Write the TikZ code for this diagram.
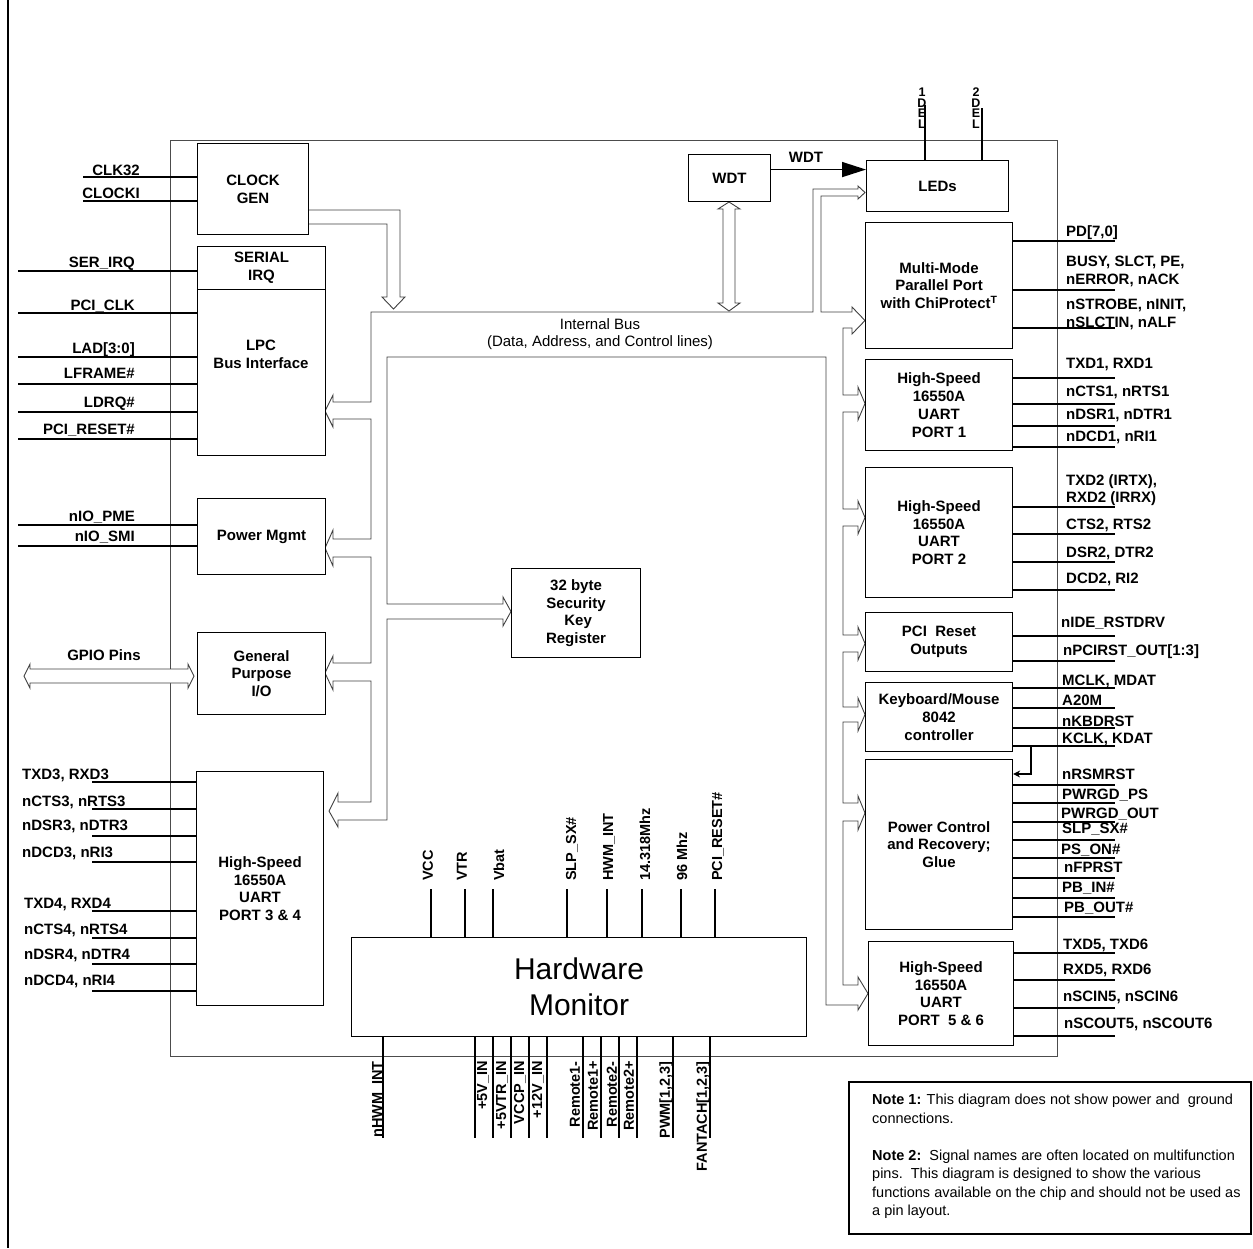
\documentclass[tikz,border=0pt]{standalone}
\usepackage{fontspec}
\setmainfont{Liberation Sans}
\usetikzlibrary{arrows.meta}
\begin{document}
\begin{tikzpicture}[x=1pt,y=-1pt,
  lbl/.style={font=\bfseries\fontsize{15}{18}\selectfont, inner sep=0pt},
  boxtxt/.style={font=\bfseries\fontsize{15}{17.8}\selectfont, align=center},
  blk/.style={draw, line width=1.1pt, fill=white, anchor=north west, inner sep=0pt, boxtxt},
  sig/.style={line width=1.6pt},
  bus/.style={draw=black!75, line width=0.9pt, fill=white, line join=miter},
  pinl/.style={font=\bfseries\fontsize{14.5}{17}\selectfont, inner sep=0pt},
  ledl/.style={font=\bfseries\fontsize{12.5}{10.5}\selectfont, align=center, inner sep=0pt, anchor=north},
]
\useasboundingbox (0,0) rectangle (1253,1248);
% outer frame
\draw[line width=2.5pt] (8,0) -- (8,1248);
% chip outline
\draw[black!70, line width=0.9pt] (170,140) rectangle (1057,1056);

% ---------- left signals ----------
\draw[sig] (83,177) -- (197,177);
\draw[sig] (83,201) -- (197,201);
\node[lbl, anchor=base east] (lclk32) at (140,175) {CLK32};
\node[lbl, anchor=base east] (lclocki) at (140,198) {CLOCKI};
\foreach \ly/\by/\tx [count=\i] in {271/267/SER\_IRQ, 313/310/PCI\_CLK, 357/353/{LAD[3:0]}, 384/378/LFRAME\#, 412/407/LDRQ\#, 439/434/PCI\_RESET\#, 525/521/nIO\_PME, 546/541/nIO\_SMI}{
  \draw[sig] (18,\ly) -- (197,\ly);
  \node[lbl, anchor=base east] (ll\i) at (135,\by) {\tx};
}
\foreach \ly/\by/\lx/\tx [count=\i] in {782/779/22/{TXD3, RXD3}, 809/806/22/{nCTS3, nRTS3}, 836/830/22/{nDSR3, nDTR3}, 862/857/22/{nDCD3, nRI3}, 911/908/24/{TXD4, RXD4}, 938/934/24/{nCTS4, nRTS4}, 964/959/24/{nDSR4, nDTR4}, 991/985/24/{nDCD4, nRI4}}{
  \draw[sig] (92,\ly) -- (196,\ly);
  \node[lbl, anchor=base west] (lu\i) at (\lx,\by) {\tx};
}
\node[lbl, anchor=base] (gpiol) at (104,660) {GPIO Pins};

% ---------- right signals ----------
\foreach \ly/\by/\lx/\tx [count=\i] in {241/236/1066/{PD[7,0]}, 290/284/1066/{nERROR, nACK}, 328/327/1066/{nSLCTIN, nALF},
  378/368/1066/{TXD1, RXD1}, 404/396/1066/{nCTS1, nRTS1}, 426/419/1066/{nDSR1, nDTR1}, 447/441/1066/{nDCD1, nRI1},
  507/502/1066/{RXD2 (IRRX)}, 534/529/1066/{CTS2, RTS2}, 562/557/1066/{DSR2, DTR2}, 590/583/1066/{DCD2, RI2},
  636/627/1061/nIDE\_RSTDRV, 661/655/1063/{nPCIRST\_OUT[1:3]},
  688/685/1062/{MCLK, MDAT}, 708/705/1062/A20M, 728/726/1062/nKBDRST, 746/743/1062/{KCLK, KDAT},
  785/779/1062/nRSMRST, 803/799/1062/PWRGD\_PS, 822/818/1061/PWRGD\_OUT, 840/833/1062/SLP\_SX\#, 858/854/1061/PS\_ON\#, 878/872/1064/nFPRST, 898/892/1062/PB\_IN\#, 917/912/1064/PB\_OUT\#,
  953/949/1063/{TXD5, TXD6}, 980/974/1063/{RXD5, RXD6}, 1008/1001/1063/{nSCIN5, nSCIN6}, 1036/1028/1064/{nSCOUT5, nSCOUT6}}{
  \draw[sig] (1012,\ly) -- (1115,\ly);
  \node[lbl, anchor=base west] (rl\i) at (\lx,\by) {\tx};
}
\node[lbl, anchor=base west] (rbusy) at (1066,266) {BUSY, SLCT, PE,};
\node[lbl, anchor=base west] (rstrobe) at (1066,309) {nSTROBE, nINIT,};
\node[lbl, anchor=base west] (rtxd2) at (1066,485) {TXD2 (IRTX),};

% ---------- LED pins ----------
\draw[sig] (925,105) -- (925,160);
\draw[sig] (982,108) -- (982,160);
\node[ledl] (led1) at (922,88) {1\\D\\E\\L};
\node[ledl] (led2) at (976,88) {2\\D\\E\\L};

% ---------- HWM pins ----------
\foreach \px/\lx/\tx [count=\i] in {431/428/VCC, 465/462/VTR, 493/499/Vbat, 567/572/SLP\_SX\#, 607/609/HWM\_INT, 642/645/14.318Mhz, 681/682/96 Mhz, 715/718/PCI\_RESET\#}{
  \draw[sig] (\px,889) -- (\px,937);
  \node[pinl, rotate=90, anchor=west] (tp\i) at (\lx,881) {\tx};
}
\foreach \px in {383,475,493,511,529,547,583,601,619,637,673,710}{
  \draw[sig] (\px,1036) -- (\px,1138);
}
\foreach \lx/\tx [count=\i] in {378/nHWM\_INT, 483/+5V\_IN, 502/+5VTR\_IN, 520/VCCP\_IN, 538/+12V\_IN, 575/Remote1-, 593/Remote1+, 612/Remote2-, 629/Remote2+, 666/{PWM[1,2,3]}, 703/{FANTACH[1,2,3]}}{
  \node[pinl, rotate=90, anchor=east] (bp\i) at (\lx,1061) {\tx};
}

% ---------- internal bus ----------
\draw[bus] (371,312) -- (813,312) -- (813,189) -- (858,189) -- (858,186) -- (865,192.5) -- (858,199) -- (858,196) -- (821,196) -- (821,312)
 -- (852,312) -- (852,307) -- (865,320.5) -- (852,334) -- (852,328) -- (843,328)
 -- (843,395) -- (858,395) -- (858,387) -- (865,403.5) -- (858,420) -- (858,412) -- (843,412)
 -- (843,509) -- (858,509) -- (858,501) -- (865,517.5) -- (858,534) -- (858,526) -- (843,526)
 -- (843,635) -- (858,635) -- (858,627) -- (865,643.5) -- (858,660) -- (858,652) -- (843,652)
 -- (843,707) -- (858,707) -- (858,698) -- (865,714.5) -- (858,731) -- (858,722) -- (843,722)
 -- (843,803) -- (858,803) -- (858,796) -- (865,813) -- (858,830) -- (858,821) -- (843,821)
 -- (843,985) -- (858,985) -- (858,977) -- (868,993.5) -- (858,1010) -- (858,1005) -- (826,1005)
 -- (826,357) -- (387,357) -- (387,604) -- (503,604) -- (503,597) -- (511,611.5) -- (503,626) -- (503,619) -- (387,619)
 -- (387,820) -- (338,820) -- (338,827) -- (329,811) -- (338,793) -- (338,802) -- (371,802)
 -- (371,681) -- (333,681) -- (333,690) -- (325,673) -- (333,656) -- (333,663) -- (371,663)
 -- (371,557) -- (333,557) -- (333,566) -- (325,548) -- (333,530) -- (333,539) -- (371,539)
 -- (371,419) -- (333,419) -- (333,427) -- (325,411) -- (333,395) -- (333,402) -- (371,402) -- cycle;
\node[font=\fontsize{15}{17}\selectfont, align=center, inner sep=0pt] (busl) at (600,334) {Internal Bus\\(Data, Address, and Control lines)};
% clock gen arrow
\draw[bus] (308,210) -- (400,210) -- (400,297) -- (405,297) -- (393.5,309) -- (382,297) -- (387,297) -- (387,224) -- (308,224);
% WDT double arrow
\draw[bus] (729,202) -- (740,209) -- (735,209) -- (735,303) -- (740,303) -- (729,311) -- (718,303) -- (723,303) -- (723,209) -- (718,209) -- cycle;
% GPIO double arrow
\draw[bus] (24,676) -- (30,664) -- (30,669) -- (188,669) -- (188,664) -- (194,676) -- (188,688) -- (188,683) -- (30,683) -- (30,688) -- cycle;

% ---------- blocks ----------
\node[blk, minimum width=111pt, minimum height=91pt] (clk) at (197,143) {CLOCK\\GEN};
\node[blk, minimum width=128pt, minimum height=43pt] (serirq) at (197,246) {SERIAL\\IRQ};
\node[blk, minimum width=128pt, minimum height=166pt] (lpc) at (197,289) {};
\node[boxtxt, inner sep=0pt] (lpct) at (261,354) {LPC\\Bus Interface};
\node[blk, minimum width=128pt, minimum height=76pt] (pm) at (197,498) {Power Mgmt};
\node[blk, minimum width=128pt, minimum height=82pt] (gpio) at (197,632) {General\\Purpose\\I/O};
\node[blk, minimum width=127pt, minimum height=234pt] (u34) at (196,771) {High-Speed\\16550A\\UART\\PORT 3 \& 4};
\node[blk, minimum width=455pt, minimum height=99pt, font=\fontsize{30}{36}\selectfont] (hwm) at (351,937) {Hardware\\Monitor};
\node[blk, minimum width=129pt, minimum height=89pt] (sec) at (511,568) {32 byte\\Security\\\ Key\\Register};
\node[blk, minimum width=82pt, minimum height=47pt] (wdt) at (688,154) {WDT};
\node[blk, minimum width=142pt, minimum height=51pt] (leds) at (866,160) {LEDs};
\node[blk, minimum width=147pt, minimum height=126pt] (pp) at (865,222) {Multi-Mode\\Parallel Port\\with ChiProtect\textsuperscript{T}};
\node[blk, minimum width=147pt, minimum height=91pt] (u1) at (865,359) {High-Speed\\16550A\\UART\\PORT 1};
\node[blk, minimum width=147pt, minimum height=130pt] (u2) at (865,467) {High-Speed\\16550A\\UART\\PORT 2};
\node[blk, minimum width=147pt, minimum height=59pt] (pci) at (865,612) {PCI\ \ Reset\\Outputs};
\node[blk, minimum width=147pt, minimum height=69pt] (kbd) at (865,682) {Keyboard/Mouse\\8042\\controller};
\node[blk, minimum width=147pt, minimum height=170pt] (pwr) at (865,759) {Power Control\\and Recovery;\\Glue};
\node[blk, minimum width=145pt, minimum height=104pt] (u56) at (868,941) {High-Speed\\16550A\\UART\\PORT\ \ 5 \& 6};

% ---------- connectors ----------
\draw[line width=1.6pt, -{Triangle[length=24pt,width=15pt]}] ([yshift=8.5pt]wdt.east) -- ([yshift=16.5pt]leds.west);
\node[lbl] (wdtl) at (806,157) {WDT};
\coordinate (kclk) at (1031,746);
\draw[line width=1.6pt, -{Stealth[length=7pt,width=7pt]}] (kclk) |- ([yshift=-15pt]pwr.north east);

% ---------- note ----------
\node[draw, line width=1.5pt, minimum width=402pt, minimum height=152pt, anchor=north west, inner sep=0pt] (note) at (848,1081) {};
\node[font=\fontsize{14.5}{18.5}\selectfont, align=left, inner sep=0pt, anchor=north west] (notet) at (872,1094) {\textbf{Note 1:} This diagram does not show power and\ \ ground\\connections.\\[18.5pt]\textbf{Note 2:}\ \ Signal names are often located on multifunction\\pins.\ \ This diagram is designed to show the various\\functions available on the chip and should not be used as\\a pin layout.};
\end{tikzpicture}
\end{document}
